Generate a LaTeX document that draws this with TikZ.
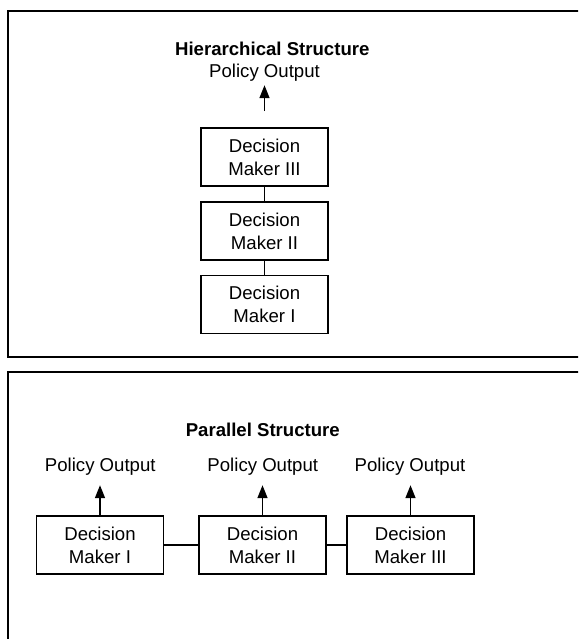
\documentclass[tikz,border=0pt]{standalone}
\usepackage{fontspec}
\setmainfont{Liberation Sans}
\usetikzlibrary{positioning,arrows.meta}
\tikzset{block/.style={draw,rectangle,minimum width=127pt,minimum height=58pt,inner sep=0pt,align=center}}
\tikzset{txt/.style={anchor=base,inner sep=0pt}}
\tikzset{title/.style={anchor=base,inner sep=0pt,font=\fontsize{18.6pt}{23pt}\selectfont\bfseries}}

\begin{document}
\begin{tikzpicture}[>={Triangle[width=10pt,length=13pt]}, on grid, x=1pt, y=-1pt, line width=1.6pt,
    every node/.style={font=\fontsize{18.6pt}{23pt}\selectfont}]

\path[use as bounding box, clip] (0,0) rectangle (578,639);

% Riquadri
\draw (8,11) rectangle (600,357);
\draw (8,372) rectangle (600,660);

% Struttura gerarchica
\node [title] (hTitle) at (272.3,56) {Hierarchical Structure};
\node [txt] (hOut) at (264.5,78) {Policy Output};
\node [block] (hDMthree) at (264.5,157) {Decision\\Maker III};
\node [block, below=74pt of hDMthree] (hDMtwo) {Decision\\Maker II};
\node [block, below=73.5pt of hDMtwo] (hDMone) {Decision\\Maker I};
\coordinate [above=42pt of hDMthree.north] (hTip);

% Struttura parallela
\node [title] (pTitle) at (262.8,436) {Parallel Structure};
\node [block] (pDMone) at (100,545) {Decision\\Maker I};
\node [block, right=162.5pt of pDMone] (pDMtwo) {Decision\\Maker II};
\node [block, right=148pt of pDMtwo] (pDMthree) {Decision\\Maker III};
\node [txt] (pOutOne) at (100.3,471) {Policy Output};
\node [txt] (pOutTwo) at (262.8,471) {Policy Output};
\node [txt] (pOutThree) at (410,471) {Policy Output};
\coordinate [above=30pt of pDMone.north] (pTipOne);
\coordinate [above=30pt of pDMtwo.north] (pTipTwo);
\coordinate [above=30pt of pDMthree.north] (pTipThree);

%Collegamenti
\path[->] (hDMthree.north) edge[shorten <=16pt] (hTip);
\path (hDMthree) edge (hDMtwo);
\path (hDMtwo) edge (hDMone);
\path[->] (pDMone.north) edge (pTipOne);
\path[->] (pDMtwo.north) edge (pTipTwo);
\path[->] (pDMthree.north) edge (pTipThree);
\path (pDMone) edge (pDMtwo);
\path (pDMtwo) edge (pDMthree);

\end{tikzpicture}
\end{document}
